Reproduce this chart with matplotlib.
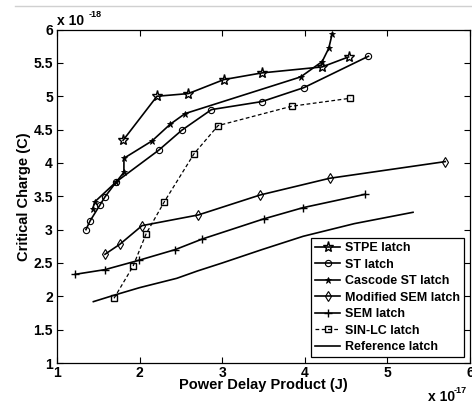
import matplotlib
matplotlib.use("Agg")
import matplotlib.pyplot as plt
from matplotlib.lines import Line2D

plt.rcParams['font.family'] = ['Liberation Sans', 'DejaVu Sans']
plt.rcParams['font.weight'] = 'bold'

# Data (x in 1e-17 J, y in 1e-18 C)
stpe_x = [1.80, 2.21, 2.59, 3.02, 3.48, 4.21, 4.53]
stpe_y = [4.34, 5.00, 5.04, 5.25, 5.35, 5.44, 5.59]

st_x = [1.35, 1.40, 1.52, 1.58, 1.72, 2.23, 2.51, 2.87, 3.48, 3.99, 4.77]
st_y = [3.00, 3.13, 3.37, 3.49, 3.72, 4.19, 4.49, 4.80, 4.92, 5.13, 5.60]

cas_x = [1.43, 1.46, 1.72, 1.81, 1.81, 2.15, 2.37, 2.55, 3.95, 4.21, 4.29, 4.33]
cas_y = [3.31, 3.42, 3.72, 3.86, 4.07, 4.33, 4.58, 4.74, 5.29, 5.52, 5.72, 5.93]

msem_x = [1.58, 1.76, 2.03, 2.71, 3.46, 4.30, 5.70]
msem_y = [2.63, 2.78, 3.06, 3.22, 3.52, 3.77, 4.02]

sem_x = [1.22, 1.58, 1.99, 2.43, 2.76, 3.50, 3.98, 4.73]
sem_y = [2.33, 2.40, 2.54, 2.70, 2.86, 3.16, 3.33, 3.53]

sin_x = [1.69, 1.92, 2.08, 2.30, 2.66, 2.95, 3.84, 4.55]
sin_y = [1.97, 2.45, 2.94, 3.42, 4.14, 4.56, 4.85, 4.97]

ref_x = [1.44, 1.70, 2.00, 2.45, 2.70, 3.00, 3.48, 3.98, 4.60, 5.31]
ref_y = [1.92, 2.02, 2.13, 2.27, 2.38, 2.50, 2.70, 2.90, 3.09, 3.26]

labels = ['STPE latch', 'ST latch', 'Cascode ST latch', 'Modified SEM latch',
          'SEM latch', 'SIN-LC latch', 'Reference latch']

xticks = [1, 2, 3, 4, 5, 6]
yticks = [1, 1.5, 2, 2.5, 3, 3.5, 4, 4.5, 5, 5.5, 6]
xticklabels = ['1', '2', '3', '4', '5', '6']
yticklabels = ['1', '1.5', '2', '2.5', '3', '3.5', '4', '4.5', '5', '5.5', '6']

fig = plt.figure(figsize=(4.72, 4.05), dpi=100)
ax = fig.add_axes([0.1208, 0.1037, 0.8750, 0.8233])

lw = 1.2
ax.plot(stpe_x, stpe_y, color='k', lw=lw, marker='*', ms=8, mfc='none', mew=1.0, label=labels[0])
ax.plot(st_x, st_y, color='k', lw=lw, marker='o', ms=4.5, mfc='none', mew=0.8, label=labels[1])
ax.plot(cas_x, cas_y, color='k', lw=lw, marker='*', ms=5, mfc='k', mew=0.6, label=labels[2])
ax.plot(msem_x, msem_y, color='k', lw=lw, marker='d', ms=5, mfc='none', mew=0.8, label=labels[3])
ax.plot(sem_x, sem_y, color='k', lw=lw, marker='+', ms=6, mew=1.0, label=labels[4])
ax.plot(sin_x, sin_y, color='k', lw=0.9, ls='--', dashes=(3, 2), marker='s', ms=5, mfc='none', mew=1.0, label=labels[5])
ax.plot(ref_x, ref_y, color='k', lw=lw, label=labels[6])

ax.set_xlim(1, 6)
ax.set_ylim(1, 6)
ax.set_xticks(xticks)
ax.set_xticklabels(xticklabels)
ax.set_yticks(yticks)
ax.set_yticklabels(yticklabels)
ax.tick_params(direction='in', top=True, right=True, labelsize=10, length=4, width=0.8)
ax.tick_params(axis='x', pad=2)
ax.tick_params(axis='y', pad=3)
for lab in ax.get_xticklabels() + ax.get_yticklabels():
    lab.set_fontweight('bold')
for sp in ax.spines.values():
    sp.set_linewidth(0.9)

ax.set_xlabel('Power Delay Product (J)', fontsize=10.5, fontweight='bold', labelpad=-1)
ax.set_ylabel('Critical Charge (C)', fontsize=10.5, fontweight='bold', labelpad=2)

fig.text(57 / 472, 1 - 25 / 405, 'x 10', fontsize=10, fontweight='bold', ha='left', va='baseline')
fig.text(89 / 472, 1 - 17 / 405, '-18', fontsize=6.5, fontweight='bold', ha='left', va='baseline')
fig.text(428 / 472, 1 - 401 / 405, 'x 10', fontsize=10, fontweight='bold', ha='left', va='baseline')
fig.text(454 / 472, 1 - 393 / 405, '-17', fontsize=6.5, fontweight='bold', ha='left', va='baseline')

leg = ax.legend(loc='lower right', fontsize=9, frameon=True, fancybox=False,
                edgecolor='k', framealpha=1, handlelength=2.0, labelspacing=0.36,
                borderpad=0.3, handletextpad=0.4, borderaxespad=0.5)
leg.get_frame().set_linewidth(0.9)
for t in leg.get_texts():
    t.set_fontweight('bold')

fig.add_artist(Line2D([15 / 472, 1], [1 - 6 / 405, 1 - 6 / 405], color='#d0d0d0', lw=1))

fig.savefig('out.png', dpi=100)
